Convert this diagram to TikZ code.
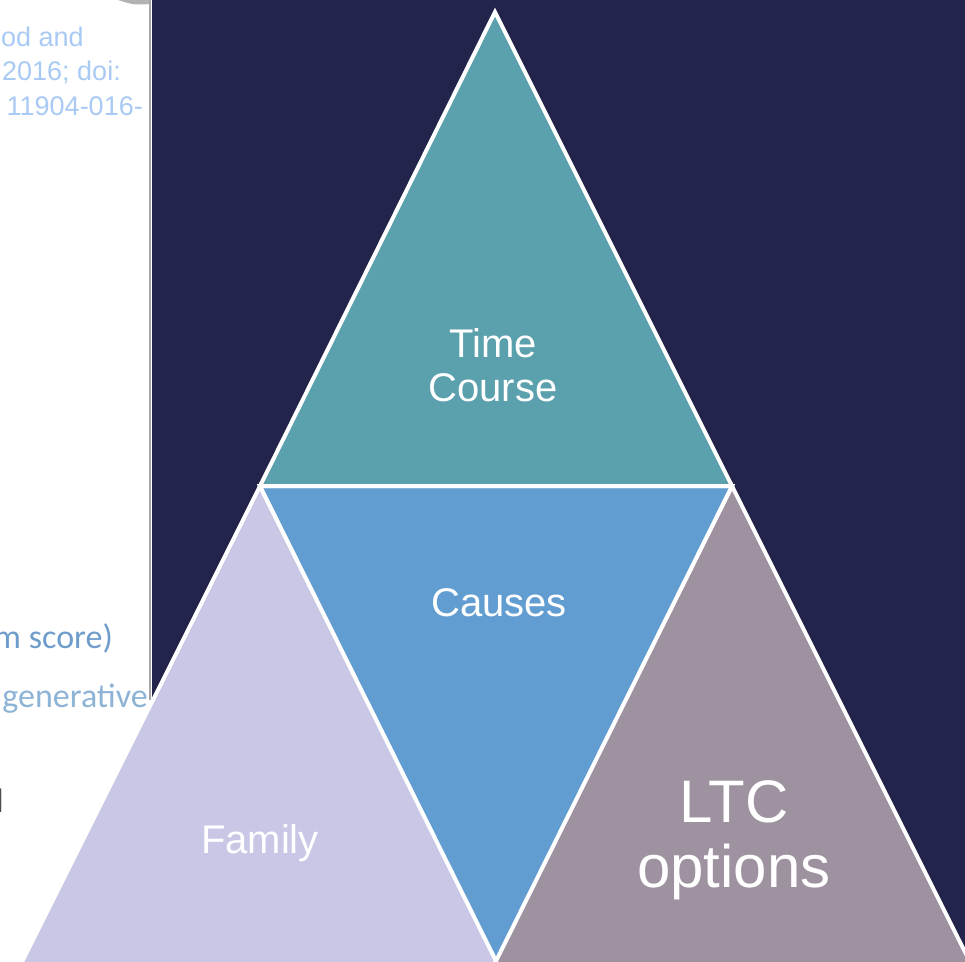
\documentclass[tikz,border=0pt]{standalone}
\usepackage{fontspec}
\setmainfont{Liberation Sans}
\newfontfamily\calibrifont{Carlito}
\usetikzlibrary{positioning}
\usetikzlibrary{calc}
\definecolor{navybg}{HTML}{23244C}
\definecolor{timecol}{HTML}{5BA0AD}
\definecolor{causecol}{HTML}{629DD1}
\definecolor{famcol}{HTML}{C8C8E6}
\definecolor{ltccol}{HTML}{9E91A0}
\definecolor{refblue}{HTML}{A9CAF4}
\definecolor{notesblue}{HTML}{6F9DCB}
\definecolor{notespale}{HTML}{8DB3D6}

\begin{document}
\begin{tikzpicture}[x=1pt, y=-1pt,
	tri/.style={draw=white, line width=4pt, line join=miter},
	lbl/.style={text=white, align=center, inner sep=0pt, font=\fontsize{40}{44}\selectfont},
	reftxt/.style={anchor=base east, inner sep=0pt, text=refblue, font=\fontsize{27}{30}\selectfont},
	notetxt/.style={anchor=base east, inner sep=0pt, font=\calibrifont\fontsize{34}{38}\selectfont}]
	\useasboundingbox (0,0) rectangle (965,961);
	\clip (0,0) rectangle (965,961);
	% slide behind
	\fill[white] (0,0) rectangle (965,961);
	\fill[black!60, opacity=.5] (118,0) -- (150,0) -- (150,4) .. controls (134,5) .. (118,0);
	\draw[black!35, line width=1.5pt] (150,0) -- (150,700);
	\node[reftxt] (ref1) at (84,46) {od and};
	\node[reftxt] (ref2) at (121,80) {2016; doi:};
	\node[reftxt] (ref3) at (143,115) {11904-016-};
	\node[notetxt, text=notesblue] (note1) at (113,648) {m score)};
	\node[notetxt, text=notespale] (note2) at (148,707) {generative};
	\node[notetxt, text=black!70] (note3) at (4,812) {d};
	\fill[navybg] (152,0) rectangle (965,961);
	% corners of the triangles
	\coordinate (apex) at (495,12);
	\coordinate (midl) at (260,486);
	\coordinate (midr) at (732,486);
	\coordinate (low) at (496,961);
	\coordinate (famleft) at (21,964);
	\coordinate (famright) at (498,964);
	\coordinate (ltcleft) at (494,964);
	\coordinate (ltcright) at (971,964);
	\filldraw[tri, fill=famcol] (midl) -- (famleft) -- (famright) -- cycle;
	\filldraw[tri, fill=ltccol] (midr) -- (ltcleft) -- (ltcright) -- cycle;
	\filldraw[tri, fill=causecol] (midl) -- (midr) -- (low) -- cycle;
	\filldraw[tri, fill=timecol] (apex) -- (midr) -- (midl) -- cycle;
	% labels
	\node[lbl] (timecourse) at (493,365) {Time\\Course};
	\node[lbl] (causes) at (499,603) {Causes};
	\node[lbl] (family) at (260,843) {Family};
	\node[lbl, font=\fontsize{60}{65}\selectfont] (ltc) at (734,840) {LTC\\options};
\end{tikzpicture}
\end{document}
